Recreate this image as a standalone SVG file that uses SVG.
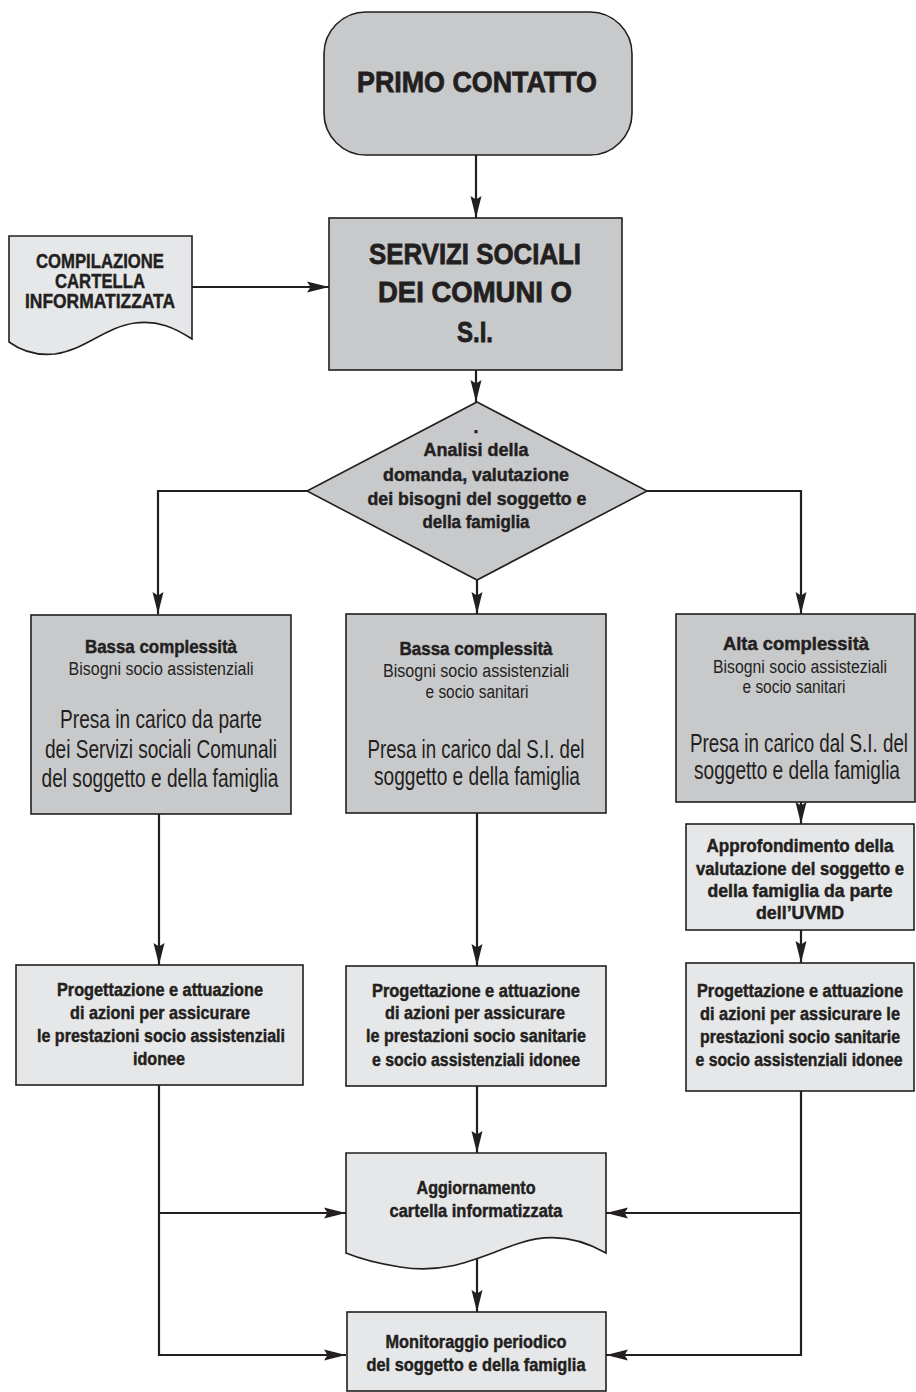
<svg xmlns="http://www.w3.org/2000/svg" width="916" height="1392" viewBox="0 0 916 1392">
  <defs>
    <marker id="arr" viewBox="0 0 22 12" refX="22" refY="6" markerWidth="22" markerHeight="12" markerUnits="userSpaceOnUse" orient="auto">
      <path d="M0,0.5 L22,6 L0,11.5 L3.5,6 Z" fill="#231f20"/>
    </marker>
    <style>
      .dark { fill: #c8c9cb; stroke: #231f20; stroke-width: 1.6; }
      .light { fill: #e6e7e8; stroke: #231f20; stroke-width: 1.6; }
      .conn { fill: none; stroke: #231f20; stroke-width: 2.2; marker-end: url(#arr); }
      text { font-family: "Liberation Sans Narrow", "Liberation Sans", Arial, sans-serif; fill: #231f20; text-anchor: middle; }
      .b { font-weight: bold; stroke: #231f20; stroke-width: 0.45; }
      .s18 { font-size: 18px; }
      .s20 { font-size: 20px; }
      .s25 { font-size: 25px; }
      .s30 { font-size: 30px; stroke-width: 0.8; }
    </style>
  </defs>
  <rect width="916" height="1392" fill="#ffffff"/>

  <!-- connectors -->
  <g id="connectors">
    <path class="conn" d="M476,155 V218"/>
    <path class="conn" d="M192,287 H329"/>
    <path class="conn" d="M476,370 V402"/>
    <path class="conn" d="M307,491 H158 V614"/>
    <path class="conn" d="M477,580 V614"/>
    <path class="conn" d="M647,491 H801 V614"/>
    <path class="conn" d="M159,814 V965"/>
    <path class="conn" d="M477,813 V966"/>
    <path class="conn" d="M801,802 V824"/>
    <path class="conn" d="M801,930 V963"/>
    <path class="conn" d="M477,1086 V1153"/>
    <path class="conn" d="M477,1256 V1312"/>
    <path class="conn" d="M159,1085 V1355 H346"/>
    <path class="conn" d="M159,1213 H346"/>
    <path class="conn" d="M801,1091 V1355 H606"/>
    <path class="conn" d="M801,1213 H606"/>
  </g>

  <!-- start terminal -->
  <g id="primo-contatto">
    <rect class="dark" x="324" y="12" width="308" height="143" rx="42" ry="42"/>
    <text class="b s30" x="477" y="92" textLength="240" lengthAdjust="spacingAndGlyphs">PRIMO CONTATTO</text>
  </g>

  <!-- input document -->
  <g id="compilazione">
    <path class="light" d="M9,236 H192 V339 C175,328 158,320 135,323 C105,327 85,350 55,354 C35,356 20,350 9,342 Z"/>
    <text class="b s20" x="100" y="268" textLength="128" lengthAdjust="spacingAndGlyphs">COMPILAZIONE</text>
    <text class="b s20" x="100" y="288" textLength="90" lengthAdjust="spacingAndGlyphs">CARTELLA</text>
    <text class="b s20" x="100" y="308" textLength="150" lengthAdjust="spacingAndGlyphs">INFORMATIZZATA</text>
  </g>

  <g id="servizi-sociali">
    <rect class="dark" x="329" y="218" width="293" height="152"/>
    <text class="b s30" x="475" y="264" textLength="212" lengthAdjust="spacingAndGlyphs">SERVIZI SOCIALI</text>
    <text class="b s30" x="475" y="302" textLength="194" lengthAdjust="spacingAndGlyphs">DEI COMUNI O</text>
    <text class="b s30" x="475" y="342" textLength="36" lengthAdjust="spacingAndGlyphs">S.I.</text>
  </g>

  <!-- decision -->
  <g id="analisi">
    <polygon class="dark" points="477,402 647,491 477,580 307,491"/>
    <text class="b s18" x="476" y="433">.</text>
    <text class="b s18" x="476" y="456" textLength="105" lengthAdjust="spacingAndGlyphs">Analisi della</text>
    <text class="b s18" x="476" y="481" textLength="186" lengthAdjust="spacingAndGlyphs">domanda, valutazione</text>
    <text class="b s18" x="477" y="505" textLength="219" lengthAdjust="spacingAndGlyphs">dei bisogni del soggetto e</text>
    <text class="b s18" x="476" y="528" textLength="107" lengthAdjust="spacingAndGlyphs">della famiglia</text>
  </g>

  <!-- level 1 -->
  <g id="bassa-assistenziali">
    <rect class="dark" x="31" y="615" width="260" height="199"/>
    <text class="b s18" x="161" y="653" textLength="152" lengthAdjust="spacingAndGlyphs">Bassa complessità</text>
    <text class="s18" x="161" y="675" textLength="185" lengthAdjust="spacingAndGlyphs">Bisogni socio assistenziali</text>
    <text class="s25" x="161" y="728" textLength="202" lengthAdjust="spacingAndGlyphs">Presa in carico da parte</text>
    <text class="s25" x="161" y="758" textLength="232" lengthAdjust="spacingAndGlyphs">dei Servizi sociali Comunali</text>
    <text class="s25" x="160" y="787" textLength="237" lengthAdjust="spacingAndGlyphs">del soggetto e della famiglia</text>
  </g>

  <g id="bassa-sanitari">
    <rect class="dark" x="346" y="614" width="260" height="199"/>
    <text class="b s18" x="476" y="655" textLength="153" lengthAdjust="spacingAndGlyphs">Bassa complessità</text>
    <text class="s18" x="476" y="677" textLength="186" lengthAdjust="spacingAndGlyphs">Bisogni socio assistenziali</text>
    <text class="s18" x="477" y="698" textLength="103" lengthAdjust="spacingAndGlyphs">e socio sanitari</text>
    <text class="s25" x="476" y="758" textLength="217" lengthAdjust="spacingAndGlyphs">Presa in carico dal S.I. del</text>
    <text class="s25" x="477" y="785" textLength="206" lengthAdjust="spacingAndGlyphs">soggetto e della famiglia</text>
  </g>

  <g id="alta">
    <rect class="dark" x="676" y="614" width="239" height="188"/>
    <text class="b s18" x="796" y="650" textLength="146" lengthAdjust="spacingAndGlyphs">Alta complessità</text>
    <text class="s18" x="800" y="673" textLength="174" lengthAdjust="spacingAndGlyphs">Bisogni socio assisteziali</text>
    <text class="s18" x="794" y="693" textLength="103" lengthAdjust="spacingAndGlyphs">e socio sanitari</text>
    <text class="s25" x="799" y="752" textLength="218" lengthAdjust="spacingAndGlyphs">Presa in carico dal S.I. del</text>
    <text class="s25" x="797" y="779" textLength="206" lengthAdjust="spacingAndGlyphs">soggetto e della famiglia</text>
  </g>

  <g id="uvmd">
    <rect class="light" x="686" y="824" width="228" height="106"/>
    <text class="b s18" x="800" y="852" textLength="187" lengthAdjust="spacingAndGlyphs">Approfondimento della</text>
    <text class="b s18" x="800" y="875" textLength="208" lengthAdjust="spacingAndGlyphs">valutazione del soggetto e</text>
    <text class="b s18" x="800" y="897" textLength="185" lengthAdjust="spacingAndGlyphs">della famiglia da parte</text>
    <text class="b s18" x="800" y="919" textLength="88" lengthAdjust="spacingAndGlyphs">dell’UVMD</text>
  </g>

  <!-- level 2 -->
  <g id="progettazione-assistenziali">
    <rect class="light" x="16" y="965" width="287" height="120"/>
    <text class="b s18" x="160" y="996" textLength="206" lengthAdjust="spacingAndGlyphs">Progettazione e attuazione</text>
    <text class="b s18" x="160" y="1019" textLength="180" lengthAdjust="spacingAndGlyphs">di azioni per assicurare</text>
    <text class="b s18" x="161" y="1042" textLength="248" lengthAdjust="spacingAndGlyphs">le prestazioni socio assistenziali</text>
    <text class="b s18" x="159" y="1065" textLength="52" lengthAdjust="spacingAndGlyphs">idonee</text>
  </g>

  <g id="progettazione-sanitarie">
    <rect class="light" x="346" y="966" width="260" height="120"/>
    <text class="b s18" x="476" y="997" textLength="208" lengthAdjust="spacingAndGlyphs">Progettazione e attuazione</text>
    <text class="b s18" x="475" y="1019" textLength="180" lengthAdjust="spacingAndGlyphs">di azioni per assicurare</text>
    <text class="b s18" x="476" y="1042" textLength="220" lengthAdjust="spacingAndGlyphs">le prestazioni socio sanitarie</text>
    <text class="b s18" x="476" y="1066" textLength="208" lengthAdjust="spacingAndGlyphs">e socio assistenziali idonee</text>
  </g>

  <g id="progettazione-alta">
    <rect class="light" x="686" y="963" width="228" height="128"/>
    <text class="b s18" x="800" y="997" textLength="206" lengthAdjust="spacingAndGlyphs">Progettazione e attuazione</text>
    <text class="b s18" x="800" y="1020" textLength="200" lengthAdjust="spacingAndGlyphs">di azioni per assicurare le</text>
    <text class="b s18" x="800" y="1043" textLength="200" lengthAdjust="spacingAndGlyphs">prestazioni socio sanitarie</text>
    <text class="b s18" x="799" y="1066" textLength="207" lengthAdjust="spacingAndGlyphs">e socio assistenziali idonee</text>
  </g>

  <!-- record update document -->
  <g id="aggiornamento">
    <path class="light" d="M346,1153 H606 V1253 C580,1238 550,1233 520,1243 C480,1256 450,1275 400,1267 C375,1263 358,1258 346,1253 Z"/>
    <text class="b s18" x="476" y="1194" textLength="119" lengthAdjust="spacingAndGlyphs">Aggiornamento</text>
    <text class="b s18" x="476" y="1217" textLength="173" lengthAdjust="spacingAndGlyphs">cartella informatizzata</text>
  </g>

  <g id="monitoraggio">
    <rect class="light" x="347" y="1312" width="259" height="79"/>
    <text class="b s18" x="476" y="1348" textLength="181" lengthAdjust="spacingAndGlyphs">Monitoraggio periodico</text>
    <text class="b s18" x="476" y="1371" textLength="219" lengthAdjust="spacingAndGlyphs">del soggetto e della famiglia</text>
  </g>
</svg>
